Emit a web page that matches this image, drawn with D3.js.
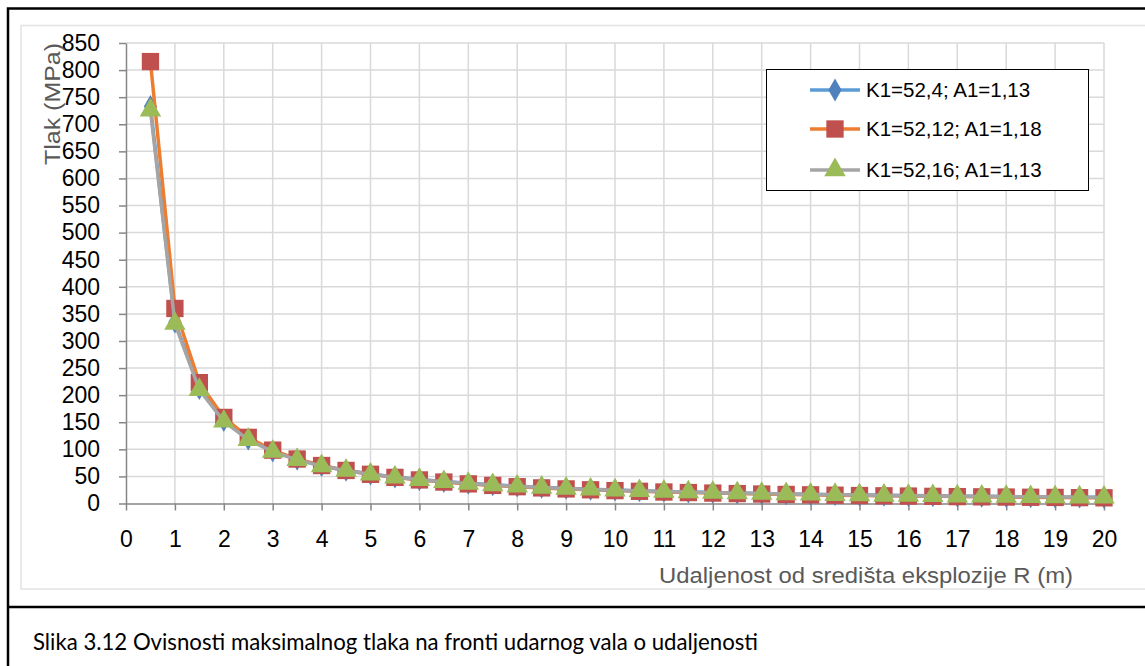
<!DOCTYPE html>
<html lang="hr">
<head>
  <meta charset="UTF-8">
  <title>Tlak na fronti udarnog vala</title>
  <script src="https://d3js.org/d3.v7.min.js"></script>
  <style>
    body { margin: 0; background: #fff; }
    svg text { font-family: "Liberation Sans", Arial, sans-serif; }
    svg text.caption { font-family: Lato, "Open Sans", sans-serif; }
    .grid line { stroke: #d9d9d9; stroke-width: 1.5px; }
    .axis path, .axis line { stroke: #868686; stroke-width: 1.5px; }
    .axis text { font-size: 23px; fill: #000; }
  </style>
</head>
<body>
  <script>
    // udaljenost R (m)
    const distances = [0.5, 1, 1.5, 2, 2.5, 3, 3.5, 4, 4.5, 5, 5.5, 6, 6.5, 7, 7.5, 8, 8.5, 9, 9.5, 10,
      10.5, 11, 11.5, 12, 12.5, 13, 13.5, 14, 14.5, 15, 15.5, 16, 16.5, 17, 17.5, 18, 18.5, 19, 19.5, 20];

    // tlak (MPa) očitan sa slike
    const serija1 = [733, 335, 211.9, 153.1, 119.0, 96.8, 81.3, 69.9, 61.2, 54.4, 48.8, 44.2, 40.4, 37.2, 34.4, 32.0,
      29.8, 28.0, 26.3, 24.8, 23.5, 22.3, 21.2, 20.2, 19.3, 18.5, 17.7, 17.0, 16.3, 15.7, 15.1, 14.6, 14.1, 13.6,
      13.2, 12.8, 12.4, 12.0, 11.7, 11.4];
    const serija2 = [815.7, 360, 223.1, 158.9, 122.1, 98.5, 82.1, 70.1, 61.0, 53.9, 48.2, 43.5, 39.6, 36.2, 33.4, 31.0,
      28.8, 26.9, 25.3, 23.8, 22.5, 21.2, 20.2, 19.2, 18.3, 17.5, 16.7, 16.0, 15.3, 14.7, 14.2, 13.7, 13.2, 12.7,
      12.3, 11.9, 11.5, 11.2, 10.8, 10.5];
    const serija3 = [726, 332, 210, 151.6, 117.8, 95.8, 80.5, 69.2, 60.6, 53.9, 48.3, 43.8, 40.0, 36.8, 34.1, 31.7,
      29.5, 27.7, 26.0, 24.6, 23.3, 22.1, 21.0, 20.0, 19.1, 18.3, 17.5, 16.8, 16.1, 15.5, 14.9, 14.5, 14.0, 13.5,
      13.1, 12.7, 12.3, 11.9, 11.6, 11.3];

    const seriesNames = ["K1=52,4; A1=1,13", "K1=52,12; A1=1,18", "K1=52,16; A1=1,13"];
    const xTicks = d3.range(0, 21, 1);
    const yTicks = d3.range(0, 851, 50);

    const W = 1145, H = 666;
    const plot = { left: 126, right: 1104, top: 43, bottom: 503.5 };

    const svg = d3.select("body").append("svg")
      .attr("width", W)
      .attr("height", H);

    svg.append("rect").attr("width", W).attr("height", H).attr("fill", "#fff");

    // okvir slike i podjela za opis
    svg.append("rect")
      .attr("x", 8).attr("y", 8.5)
      .attr("width", W + 20).attr("height", H + 20)
      .attr("fill", "none").attr("stroke", "#000").attr("stroke-width", 2.5);
    svg.append("line")
      .attr("x1", 8).attr("x2", W).attr("y1", 607).attr("y2", 607)
      .attr("stroke", "#000").attr("stroke-width", 2.5);

    // okvir grafikona
    svg.append("rect")
      .attr("x", 21).attr("y", 25.5)
      .attr("width", W).attr("height", 563.5)
      .attr("fill", "none").attr("stroke", "#e3e3e3").attr("stroke-width", 1.5);

    const x = d3.scaleLinear().domain([0, 20]).range([plot.left, plot.right]);
    const y = d3.scaleLinear().domain([0, 850]).range([plot.bottom, plot.top]);

    // mreža
    const grid = svg.append("g").attr("class", "grid");
    grid.selectAll(".h").data(yTicks.slice(1)).enter().append("line")
      .attr("x1", plot.left).attr("x2", plot.right)
      .attr("y1", d => y(d)).attr("y2", d => y(d));
    grid.selectAll(".v").data(xTicks.slice(1)).enter().append("line")
      .attr("x1", d => x(d)).attr("x2", d => x(d))
      .attr("y1", plot.top).attr("y2", plot.bottom);

    // osi
    const xAxis = svg.append("g")
      .attr("class", "axis")
      .attr("transform", "translate(0," + plot.bottom + ")")
      .call(d3.axisBottom(x).tickValues(xTicks).tickSize(7).tickSizeOuter(0).tickPadding(20));
    xAxis.selectAll("text").attr("dy", "0.71em");

    const yAxis = svg.append("g")
      .attr("class", "axis")
      .attr("transform", "translate(" + plot.left + ",0)")
      .call(d3.axisLeft(y).tickValues(yTicks).tickSize(7).tickSizeOuter(0).tickPadding(19));

    // naslovi osi
    svg.append("text")
      .attr("x", 1073).attr("y", 583)
      .attr("text-anchor", "end")
      .attr("font-size", 22)
      .attr("textLength", 414)
      .attr("lengthAdjust", "spacingAndGlyphs")
      .attr("fill", "#595959")
      .text("Udaljenost od središta eksplozije R (m)");

    svg.append("text")
      .attr("transform", "translate(60,104) rotate(-90)")
      .attr("text-anchor", "middle")
      .attr("font-size", 22)
      .attr("textLength", 122)
      .attr("lengthAdjust", "spacingAndGlyphs")
      .attr("fill", "#595959")
      .text("Tlak (MPa)");

    // serije
    const series = [
      { name: seriesNames[0], values: serija1, line: "#5b9bd5", marker: "#4f81bd", shape: d3.symbolDiamond, size: 150 },
      { name: seriesNames[1], values: serija2, line: "#ed7d31", marker: "#c0504d", shape: d3.symbolSquare, size: 300 },
      { name: seriesNames[2], values: serija3, line: "#a5a5a5", marker: "#9bbb59", shape: d3.symbolTriangle, size: 200 }
    ];

    const line = d3.line()
      .x(d => x(d[0]))
      .y(d => y(d[1]));

    series.forEach(s => {
      const pts = distances.map((r, i) => [r, s.values[i]]);
      const g = svg.append("g");
      g.append("path")
        .datum(pts)
        .attr("fill", "none")
        .attr("stroke", s.line)
        .attr("stroke-width", 3.5)
        .attr("stroke-linejoin", "round")
        .attr("d", line);
      g.selectAll("path.m").data(pts).enter().append("path")
        .attr("class", "m")
        .attr("d", d3.symbol().type(s.shape).size(s.size))
        .attr("transform", d => "translate(" + x(d[0]) + "," + y(d[1]) + ")")
        .attr("fill", s.marker);
    });

    // legenda
    const legend = svg.append("g");
    legend.append("rect")
      .attr("x", 766.5).attr("y", 69.5)
      .attr("width", 322).attr("height", 121)
      .attr("fill", "#fff").attr("stroke", "#000").attr("stroke-width", 1);
    const ly = [90, 129, 170];
    series.forEach((s, i) => {
      const row = legend.append("g").attr("transform", "translate(0," + ly[i] + ")");
      row.append("line")
        .attr("x1", 810).attr("x2", 860)
        .attr("stroke", s.line).attr("stroke-width", 3.5);
      row.append("path")
        .attr("d", d3.symbol().type(s.shape).size(s.size))
        .attr("transform", "translate(835,0)")
        .attr("fill", s.marker);
      row.append("text")
        .attr("x", 866).attr("y", 7)
        .attr("font-size", 20.5)
        .attr("fill", "#000")
        .text(s.name);
    });

    // opis slike
    svg.append("text")
      .attr("class", "caption")
      .attr("x", 33).attr("y", 650)
      .attr("font-size", 23)
      .attr("textLength", 725)
      .attr("lengthAdjust", "spacingAndGlyphs")
      .attr("fill", "#000")
      .text("Slika 3.12 Ovisnosti maksimalnog tlaka na fronti udarnog vala o udaljenosti");
  </script>
</body>
</html>
